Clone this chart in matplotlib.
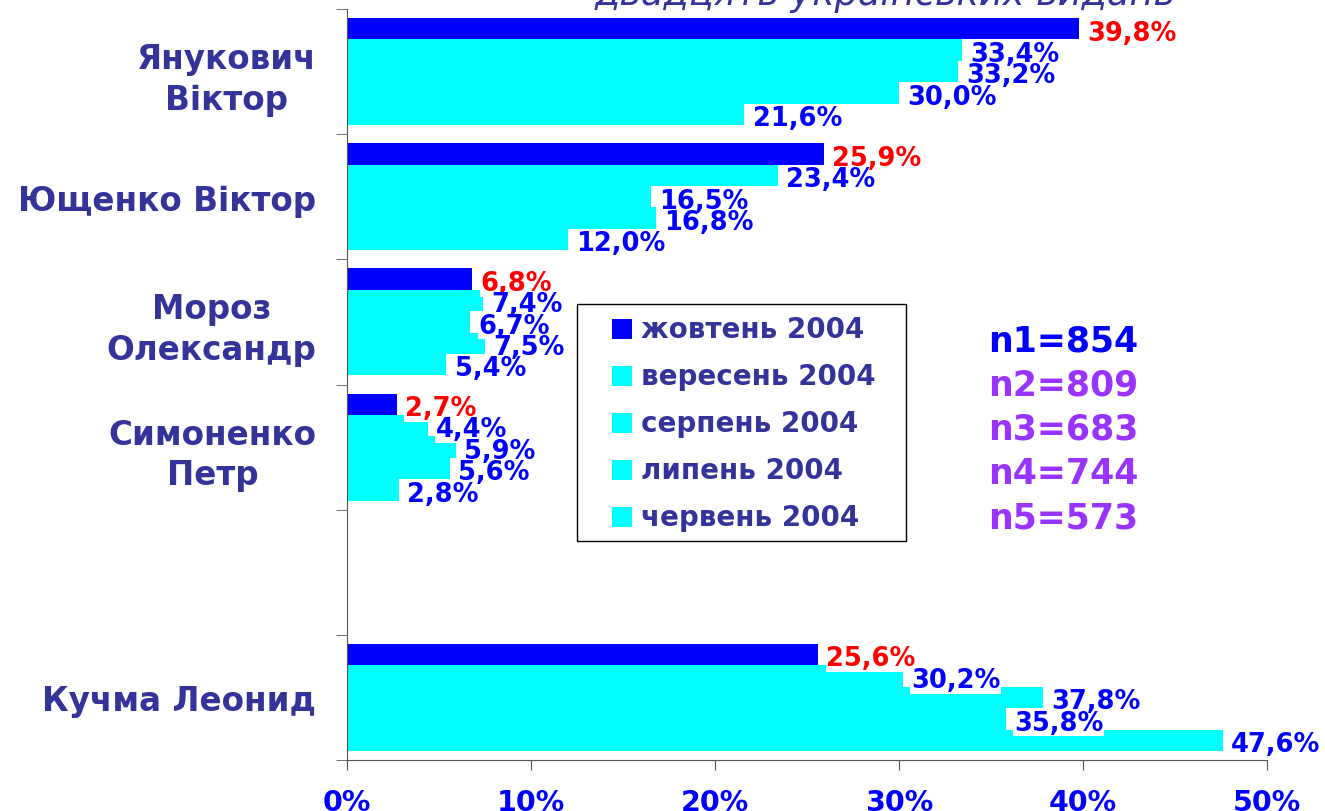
import numpy as np
import matplotlib.pyplot as plt
from matplotlib.patches import Rectangle

# кандидати знизу вверх (порожній слот між Кучмою та Симоненком)
candidates = ['Кучма Леонид', '', 'Симоненко\nПетр', 'Мороз\nОлександр',
              'Ющенко Віктор', 'Янукович\nВіктор']
months = ['жовтень 2004', 'вересень 2004', 'серпень 2004', 'липень 2004', 'червень 2004']

# значення для кожного місяця у порядку candidates
oct_2004 = [25.6, np.nan, 2.7, 6.8, 25.9, 39.8]
sep_2004 = [30.2, np.nan, 4.4, 7.4, 23.4, 33.4]
aug_2004 = [37.8, np.nan, 5.9, 6.7, 16.5, 33.2]
jul_2004 = [35.8, np.nan, 5.6, 7.5, 16.8, 30.0]
jun_2004 = [47.6, np.nan, 2.8, 5.4, 12.0, 21.6]
series = [oct_2004, sep_2004, aug_2004, jul_2004, jun_2004]

sample_labels = ['n1=854', 'n2=809', 'n3=683', 'n4=744', 'n5=573']
xticks = [0, 10, 20, 30, 40, 50]

BLUE = '#0000ff'
CYAN = '#00ffff'
NAVY = '#333399'
PURPLE = '#9933ff'
RED = '#ff0000'

W, H = 1325, 812
fig = plt.figure(figsize=(W / 100, H / 100), dpi=100)
ax = fig.add_axes([347 / W, 1 - 761 / H, 920 / W, 751 / H])

y = np.arange(len(candidates))
h = 0.171
bar_colors = [BLUE, CYAN, CYAN, CYAN, CYAN]
for j, vals in enumerate(series):
    off = 2 * h - j * h
    ax.barh(y + off, vals, height=h, color=bar_colors[j], edgecolor='none', zorder=2)
    for yi, v in zip(y, vals):
        if np.isnan(v):
            continue
        txt = f'{v:.1f}%'.replace('.', ',')
        kw = dict(va='center', ha='left', fontsize=18.5, fontweight='bold')
        # білий фон під підписом, сам текст поверх усіх фонів
        ax.text(v + 0.45, yi + off - 0.03, txt, color='white', zorder=3,
                bbox=dict(facecolor='white', edgecolor='none', pad=0.6), **kw)
        ax.text(v + 0.45, yi + off - 0.03, txt, color=RED if j == 0 else BLUE,
                zorder=4, **kw)

ax.set_xlim(0, 50)
ax.set_ylim(-0.5, len(candidates) - 0.5)
ax.set_xticks(xticks)
ax.set_xticklabels([f'{t}%' for t in xticks], fontsize=20.5, fontweight='bold', color=BLUE)
ax.tick_params(axis='x', direction='out', length=7, pad=13.5, color='#555555')

ax.set_yticks(np.arange(-0.5, len(candidates)), minor=True)
ax.set_yticks(y)
ax.set_yticklabels(candidates, fontsize=23.5, fontweight='bold', color=NAVY,
                   multialignment='center', linespacing=1.3)
ax.tick_params(axis='y', which='major', length=0, pad=22)
ax.tick_params(axis='y', which='minor', direction='out', length=8, color='#555555')

for s in ['top', 'right']:
    ax.spines[s].set_visible(False)
for s in ['left', 'bottom']:
    ax.spines[s].set_color('#555555')

# обрізаний заголовок зверху
fig.text(595 / W, 1 - 5 / H, 'двадцять українських видань', fontsize=26.5,
         style='italic', color=NAVY, ha='left', va='baseline')

# легенда
fig.patches.append(Rectangle((577 / W, 1 - 542 / H), 329 / W, 237 / H,
                             transform=fig.transFigure, facecolor='white',
                             edgecolor='black', linewidth=1.0, zorder=5))
for i, (m, c) in enumerate(zip(months, bar_colors)):
    yc = 330 + i * 47
    fig.patches.append(Rectangle((612 / W, 1 - (yc + 10) / H), 20 / W, 20 / H,
                                 transform=fig.transFigure, facecolor=c,
                                 edgecolor='none', zorder=6))
    fig.text(641 / W, 1 - yc / H, m, fontsize=20, fontweight='bold', color=NAVY,
             ha='left', va='center', zorder=6)

for i, lab in enumerate(sample_labels):
    fig.text(988 / W, 1 - (341 + i * 44.5) / H, lab, fontsize=25, fontweight='bold',
             color=BLUE if i == 0 else PURPLE, ha='left', va='center')

fig.savefig('out.png', dpi=100)
